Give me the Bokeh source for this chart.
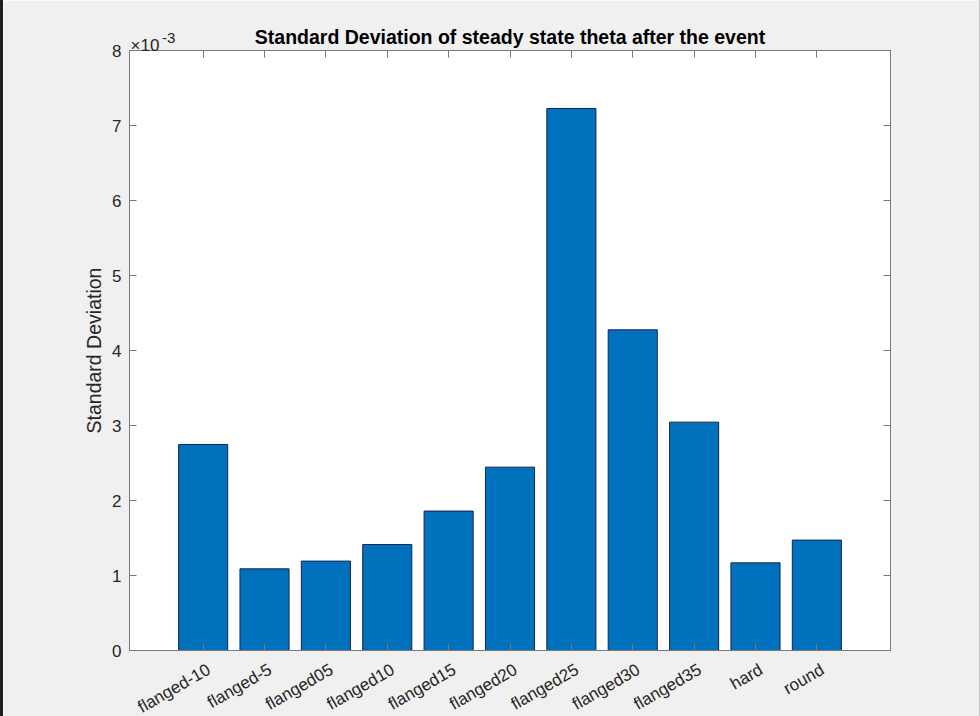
import math
from bokeh.plotting import figure
from bokeh.models import Range1d, FixedTicker, LinearAxis, Spacer
from bokeh.core.properties import value
from bokeh.layouts import row
from bokeh.embed import file_html
from bokeh.resources import INLINE

categories = ["flanged-10", "flanged-5", "flanged05", "flanged10", "flanged15",
              "flanged20", "flanged25", "flanged30", "flanged35", "hard", "round"]
std_values = [2.747e-3, 1.089e-3, 1.192e-3, 1.413e-3, 1.859e-3, 2.445e-3,
              7.227e-3, 4.276e-3, 3.045e-3, 1.169e-3, 1.472e-3]
y_ticks = [i / 1000 for i in range(9)]
y_tick_labels = [str(i) for i in range(9)]
positions = list(range(1, len(categories) + 1))

FONT = "Liberation Sans"
AX = "#7a7a7a"
TXT = "#262626"

xr = Range1d(-0.2, 12.2)
yr = Range1d(0, 0.008)
p = figure(width=976, height=716, output_backend="svg", toolbar_location=None,
           x_range=xr, y_range=yr,
           min_border_left=126, min_border_right=89, min_border_top=50, min_border_bottom=66,
           background_fill_color="white", border_fill_color="#f0f0f0",
           outline_line_color=AX)
p.grid.visible = False

p.vbar(x=positions, top=std_values, width=0.8, bottom=0,
       fill_color="#0072BD", line_color="#1a2250", line_width=1)

# title
p.title.text = "Standard Deviation of steady state theta after the event"
p.title.text_font = FONT
p.title.text_font_size = "19.5px"
p.title.text_font_style = "bold"
p.title.align = "center"
p.title.text_color = "black"
p.title.standoff = 6

# bottom axis: ticks only, labels drawn as rotated text below
xa = p.xaxis[0]
xa.ticker = FixedTicker(ticks=positions)
xa.major_label_overrides = {pos: "" for pos in positions}
xa.major_label_text_font_size = "0px"
xa.major_label_standoff = 0
xa.major_tick_in = 7
xa.major_tick_out = 0
xa.minor_tick_line_color = None
xa.axis_line_color = AX
xa.major_tick_line_color = AX

p.text(x=positions, y=[yr.start] * len(positions), text=categories,
       angle=math.pi / 6, x_offset=1, y_offset=9.5,
       text_align="right", text_baseline="top",
       text_font=value(FONT), text_font_size="17px", text_color=TXT,
       level="overlay")

# left axis
ya = p.yaxis[0]
ya.ticker = FixedTicker(ticks=y_ticks)
ya.major_label_overrides = {t: l for t, l in zip(y_ticks, y_tick_labels)}
ya.major_label_text_font = FONT
ya.major_label_text_font_size = "17px"
ya.major_label_text_color = TXT
ya.major_label_standoff = 8
ya.major_tick_in = 7
ya.major_tick_out = 0
ya.minor_tick_line_color = None
ya.axis_line_color = AX
ya.major_tick_line_color = AX
ya.axis_label = "Standard Deviation"
ya.axis_label_text_font = FONT
ya.axis_label_text_font_size = "19.5px"
ya.axis_label_text_font_style = "normal"
ya.axis_label_text_color = TXT
ya.axis_label_standoff = 4

# mirror axes (top / right), ticks only
top = LinearAxis(ticker=FixedTicker(ticks=positions),
                 major_label_overrides={pos: "" for pos in positions},
                 major_label_text_font_size="0px",
                 major_label_standoff=0, major_tick_in=7, major_tick_out=0,
                 minor_tick_line_color=None, axis_line_color=AX, major_tick_line_color=AX)
p.add_layout(top, "above")
right = LinearAxis(ticker=FixedTicker(ticks=y_ticks),
                   major_label_overrides={t: "" for t in y_ticks},
                   major_label_text_font_size="0px",
                   major_label_standoff=0, major_tick_in=7, major_tick_out=0,
                   minor_tick_line_color=None, axis_line_color=AX, major_tick_line_color=AX)
p.add_layout(right, "right")

# exponent label at the top-left corner of the axes
p.text(x=[xr.start], y=[yr.end], text=["×10"], x_offset=1, y_offset=-5.5,
       text_align="left", text_baseline="alphabetic",
       text_font=value(FONT), text_font_size="17px", text_color=TXT, level="overlay")
p.text(x=[xr.start], y=[yr.end], text=["-3"], x_offset=32.5, y_offset=-13,
       text_align="left", text_baseline="alphabetic",
       text_font=value(FONT), text_font_size="15px", text_color=TXT, level="overlay")

layout = row(Spacer(width=3, height=716, styles={"background-color": "#1e1e1e"}),
             p,
             Spacer(width=1, height=716, styles={"background-color": "#c4c4c4"}))

open("out.html", "w").write(file_html(layout, INLINE))
